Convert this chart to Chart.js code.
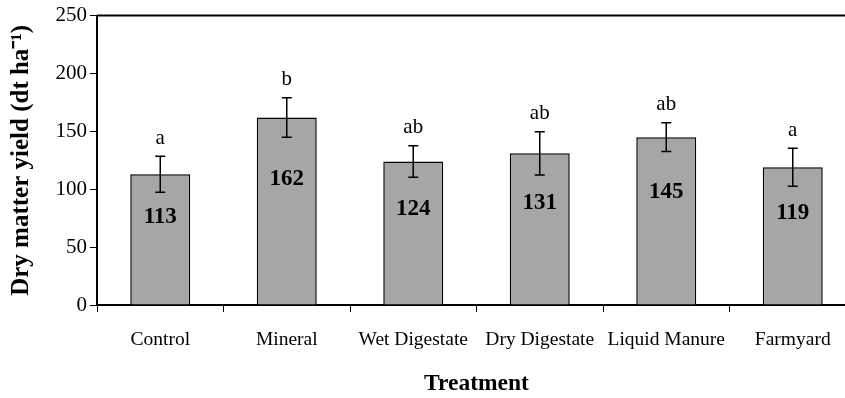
<!DOCTYPE html>
<html>
<head>
<meta charset="utf-8">
<script src="https://cdn.jsdelivr.net/npm/chart.js@4"></script>
<style>
  html, body { margin: 0; padding: 0; background: #fff; overflow: hidden; }
  #wrap { width: 860px; height: 398px; }
</style>
</head>
<body>
<div id="wrap"><canvas id="myCanvas"></canvas></div>
<script>
'use strict';
// data
const treatments = ['Control', 'Mineral', 'Wet Digestate', 'Dry Digestate', 'Liquid Manure', 'Farmyard'];
const yieldValues = [113, 162, 124, 131, 145, 119];
const errorValues = [15.5, 17, 13.6, 18.6, 12.5, 16.5];
const groupLetters = ['a', 'b', 'ab', 'ab', 'ab', 'a'];
const yTicks = [0, 50, 100, 150, 200, 250];

const serif = '"Liberation Serif", "Times New Roman", serif';

// error bars, letters, bar labels and the box round the plot
const extrasPlugin = {
  id: 'extras',
  afterDatasetsDraw(chart) {
    const ctx = chart.ctx;
    const y = chart.scales.y;
    const meta = chart.getDatasetMeta(0);
    const area = chart.chartArea;
    ctx.save();

    // top and right border
    ctx.strokeStyle = '#000';
    ctx.lineWidth = 2;
    ctx.beginPath();
    ctx.moveTo(area.left, area.top);
    ctx.lineTo(area.right, area.top);
    ctx.lineTo(area.right, area.bottom);
    ctx.stroke();

    for (let i = 0; i < meta.data.length; i++) {
      const bar = meta.data[i];
      const x = bar.x;
      const hi = y.getPixelForValue(yieldValues[i] + errorValues[i]);
      const lo = y.getPixelForValue(yieldValues[i] - errorValues[i]);

      ctx.lineWidth = 1.5;
      ctx.beginPath();
      ctx.moveTo(x, hi);
      ctx.lineTo(x, lo);
      ctx.moveTo(x - 5, hi);
      ctx.lineTo(x + 5, hi);
      ctx.moveTo(x - 5, lo);
      ctx.lineTo(x + 5, lo);
      ctx.stroke();

      ctx.fillStyle = '#000';
      ctx.textAlign = 'center';
      ctx.textBaseline = 'middle';
      ctx.font = '21px ' + serif;
      ctx.fillText(groupLetters[i], x, hi - 18);

      ctx.font = 'bold 23px ' + serif;
      ctx.fillText(String(yieldValues[i]), x, y.getPixelForValue(yieldValues[i] * 0.67));
    }
    ctx.restore();
  }
};

const chartSection = document.getElementById('myCanvas').getContext('2d');
let myChart = new Chart(chartSection, {
  type: 'bar',
  data: {
    labels: treatments,
    datasets: [
      {
        data: yieldValues,
        backgroundColor: '#a6a6a6',
        borderColor: '#000',
        borderWidth: 1.5,
        categoryPercentage: 1,
        barPercentage: 0.474,
      },
    ],
  },
  options: {
    responsive: true,
    maintainAspectRatio: false,
    animation: false,
    devicePixelRatio: 1,
    layout: { padding: { top: 15, right: 4, left: 0, bottom: 0 } },
    plugins: {
      legend: { display: false },
      tooltip: { enabled: false },
    },
    scales: {
      x: {
        grid: { drawOnChartArea: false, drawTicks: true, tickLength: 7, color: '#000', lineWidth: 1 },
        border: { display: true, color: '#000', width: 2 },
        ticks: { color: '#000', font: { family: serif, size: 19.5 }, padding: 16, maxRotation: 0, autoSkip: false },
        title: {
          display: true,
          text: 'Treatment',
          color: '#000',
          font: { family: serif, size: 23.5, weight: 'bold' },
          padding: { top: 0, bottom: 0 },
        },
        afterFit(scale) { scale.height = 93; },
      },
      y: {
        min: 0,
        max: 250,
        afterBuildTicks(scale) { scale.ticks = yTicks.map(v => ({ value: v })); },
        grid: { drawOnChartArea: false, drawTicks: true, tickLength: 7, color: '#000', lineWidth: 1 },
        border: { display: true, color: '#000', width: 2 },
        ticks: { color: '#000', font: { family: serif, size: 21 }, padding: 3 },
        title: {
          display: true,
          text: 'Dry matter yield (dt ha⁻¹)',
          color: '#000',
          font: { family: serif, size: 25, weight: 'bold' },
          padding: { top: 7, bottom: 0 },
        },
        afterFit(scale) { scale.width = 97; },
      },
    },
  },
  plugins: [extrasPlugin],
});
</script>
</body>
</html>
